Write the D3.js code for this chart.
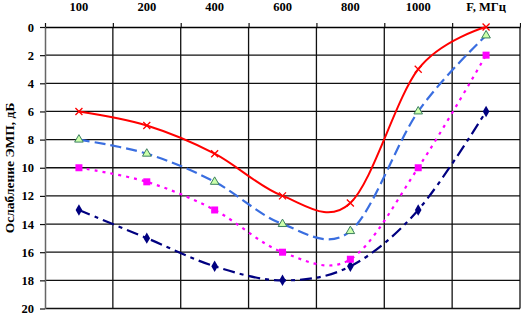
<!doctype html>
<html>
<head>
<meta charset="utf-8"/>
<script src="https://cdnjs.cloudflare.com/ajax/libs/d3/7.8.5/d3.min.js"></script>
<style>
  body { margin: 0; background: #fff; }
  svg { display: block; }
  text { font-family: "Liberation Serif", "DejaVu Serif", serif; font-weight: bold; }
</style>
</head>
<body>
<svg width="521" height="313"></svg>
<script>
// categories along the top (last band carries the axis name)
var categories = ["100", "200", "400", "600", "800", "1000", "F, МГц"];
var yTicks = [0, 2, 4, 6, 8, 10, 12, 14, 16, 18, 20];

// attenuation, dB
var redVals     = [6, 7, 9, 12, 12.5, 3, 0];
var blueVals    = [8, 9, 11, 14, 14.5, 6, 0.6];
var magentaVals = [10, 11, 13, 16, 16.5, 10, 2];
var navyVals    = [13, 15, 17, 18, 17, 13, 6];

var svg = d3.select("svg");
var plotL = 45, plotR = 520, plotT = 27, plotB = 308.5;

var xLin = d3.scaleLinear().domain([0, categories.length]).range([plotL, plotR]);
var xBand = d3.scaleBand().domain(categories).range([plotL, plotR]);
var y = d3.scaleLinear().domain([0, 20]).range([plotT, plotB]);

function cx(i) { return xBand(categories[i]) + xBand.bandwidth() / 2; }

// grid
svg.append("g").selectAll("line")
  .data(yTicks.slice(1))
  .enter().append("line")
  .attr("x1", plotL).attr("x2", plotR)
  .attr("y1", d => y(d)).attr("y2", d => y(d))
  .attr("stroke", "#111").attr("stroke-width", 1.3);

svg.append("g").selectAll("line")
  .data(d3.range(1, categories.length + 1))
  .enter().append("line")
  .attr("x1", d => xLin(d)).attr("x2", d => xLin(d))
  .attr("y1", plotT).attr("y2", plotB)
  .attr("stroke", "#111").attr("stroke-width", 1.3);

// left axis
var yAxis = svg.append("g")
  .attr("transform", "translate(" + plotL + ",0)")
  .call(d3.axisLeft(y).tickValues(yTicks).tickSize(5).tickSizeOuter(0).tickPadding(6))
  .attr("font-family", "Liberation Serif").attr("font-size", 12.5);
yAxis.select(".domain").attr("stroke", "#666").attr("stroke-width", 1.5);
yAxis.selectAll(".tick line").attr("stroke", "#111").attr("stroke-width", 1.2);
yAxis.selectAll("text").attr("fill", "#000");

// top axis: ticks at band edges
var xTicks = svg.append("g")
  .attr("transform", "translate(0," + plotT + ")")
  .call(d3.axisTop(xLin).tickValues(d3.range(categories.length + 1)).tickFormat("").tickSize(4).tickSizeOuter(0));
xTicks.select(".domain").attr("stroke", "#000").attr("stroke-width", 1.3);
xTicks.selectAll(".tick line").attr("stroke", "#111").attr("stroke-width", 1.2);

// top axis labels centred in bands
var xLabels = svg.append("g")
  .attr("transform", "translate(0," + plotT + ")")
  .call(d3.axisTop(xBand).tickSize(0).tickPadding(16))
  .attr("font-family", "Liberation Serif").attr("font-size", 12.5);
xLabels.select(".domain").remove();
xLabels.selectAll("text").attr("fill", "#000");

// y title
svg.append("text")
  .attr("transform", "translate(14,168) rotate(-90)")
  .attr("text-anchor", "middle")
  .attr("font-size", 13.5)
  .text("Ослабление ЭМП, дБ");

var line = d3.line()
  .x((d, i) => cx(i))
  .y(d => y(d))
  .curve(d3.curveCatmullRom.alpha(0));

// navy dash-dot, diamonds
svg.append("path").attr("d", line(navyVals)).attr("fill", "none")
  .attr("stroke", "#000080").attr("stroke-width", 2.2).attr("stroke-dasharray", "12,5,4,5");
svg.append("g").selectAll("path").data(navyVals).enter().append("path")
  .attr("d", d3.symbol().type(d3.symbolDiamond).size(38))
  .attr("transform", (d, i) => "translate(" + cx(i) + "," + y(d) + ")")
  .attr("fill", "#000080");

// magenta dotted, squares
svg.append("path").attr("d", line(magentaVals)).attr("fill", "none")
  .attr("stroke", "#ff00ff").attr("stroke-width", 2.2).attr("stroke-dasharray", "3,5");
svg.append("g").selectAll("rect").data(magentaVals).enter().append("rect")
  .attr("x", (d, i) => cx(i) - 3.5).attr("y", d => y(d) - 3.5)
  .attr("width", 7).attr("height", 7)
  .attr("fill", "#ff00ff");

// blue dashed, triangles
svg.append("path").attr("d", line(blueVals)).attr("fill", "none")
  .attr("stroke", "#3a6ee0").attr("stroke-width", 2.2).attr("stroke-dasharray", "11,5");
svg.append("g").selectAll("path").data(blueVals).enter().append("path")
  .attr("d", d3.symbol().type(d3.symbolTriangle).size(32))
  .attr("transform", (d, i) => "translate(" + cx(i) + "," + y(d) + ")")
  .attr("fill", "#ccffaa").attr("stroke", "#3c8060").attr("stroke-width", 1);

// red solid, crosses
svg.append("path").attr("d", line(redVals)).attr("fill", "none")
  .attr("stroke", "#ff0000").attr("stroke-width", 2);
svg.append("g").selectAll("path").data(redVals).enter().append("path")
  .attr("d", "M-3.5,-3.5L3.5,3.5M-3.5,3.5L3.5,-3.5")
  .attr("transform", (d, i) => "translate(" + cx(i) + "," + y(d) + ")")
  .attr("stroke", "#ff0000").attr("stroke-width", 1.3);
</script>
</body>
</html>
